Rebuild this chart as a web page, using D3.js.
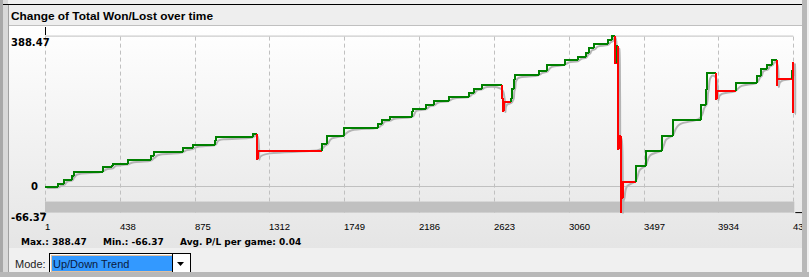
<!DOCTYPE html>
<html>
<head>
<meta charset="utf-8">
<script src="https://cdn.jsdelivr.net/npm/d3@7"></script>
<style>
body { margin: 0; background: #f0f0f0; }
svg { display: block; }
</style>
</head>
<body>
<svg id="chart" width="809" height="277"></svg>
<script>
// Cumulative won/lost (game number, total, trend 1 = up / -1 = down)
const games = [1, 79, 112, 157, 169, 338, 392, 398, 487, 622, 639, 805, 864, 992, 998, 1214,
    1241, 1243, 1617, 1650, 1749, 1948, 1967, 2018, 2146, 2152, 2228, 2275, 2359, 2479, 2505,
    2551, 2672, 2678, 2680, 2721, 2730, 2738, 2746, 2884, 2934, 3036, 3116, 3159, 3178, 3209,
    3289, 3312, 3330, 3341, 3349, 3351, 3365, 3367, 3378, 3453, 3509, 3606, 3670, 3834, 3861,
    3869, 3921, 3925, 4038, 4161, 4180, 4219, 4245, 4275, 4277, 4362, 4369, 4372];
const totals = [0, 7.5, 17.9, 28.2, 38.5, 49.6, 54, 59, 67.6, 78, 88.2, 98.5, 108, 116.6, 126.9, 136.4,
    72, 92.6, 110.7, 131.3, 151.9, 162.2, 172.5, 180.2, 191.3, 200.9, 211.2, 221.5, 231.8, 242.1, 252.4,
    260.9, 228.2, 194.7, 217.1, 226.6, 252.4, 275.6, 286.7, 297, 314.2, 324.6, 333.8, 344.1, 355.5, 365.8,
    376.1, 388.47, 318, 362, 98, 129.5, -66.37, -28.5, 11.7, 52.2, 90.8, 130.3, 170.7, 210.1, 249.8,
    291.1, 224.8, 245.4, 266.1, 285.9, 302.9, 314.2, 324.6, 258.6, 278.2, 297.8, 320.2, 189.5];
const trend = [1, 1, 1, 1, 1, 1, 1, 1, 1, 1, 1, 1, 1, 1, 1, 1,
    -1, -1, 1, 1, 1, 1, 1, 1, 1, 1, 1, 1, 1, 1, 1,
    1, -1, -1, -1, 1, 1, 1, 1, 1, 1, 1, 1, 1, 1, 1,
    1, 1, -1, 1, -1, -1, -1, -1, -1, 1, 1, 1, 1, 1, 1,
    1, -1, -1, 1, 1, 1, 1, 1, -1, -1, 1, 1, -1];

const xTicks = [1, 438, 875, 1312, 1749, 2186, 2623, 3060, 3497, 3934, 4371];
const yLimits = [-66.37, 388.47];
const shadeBand = [-66.37, -38];
const maxValue = 388.47;
const minValue = -66.37;
const avgPerGame = 0.04;
const modeOptions = ["Up/Down Trend"];

const svg = d3.select("#chart");
const W = 809, H = 277;

const x = d3.scaleLinear().domain([1, 4371]).range([45, 793.3]);
const y = d3.scaleLinear().domain(yLimits).range([212.6, 35.6]);
const trendColor = d3.scaleOrdinal().domain([1, -1]).range(["#008000", "#ff0000"]);

// window frame
const defs = svg.append("defs");
const grad = defs.append("linearGradient")
    .attr("id", "panelGrad")
    .attr("x1", 0).attr("y1", 0).attr("x2", 0).attr("y2", 1);
grad.append("stop").attr("offset", "0%").attr("stop-color", "#ffffff");
grad.append("stop").attr("offset", "100%").attr("stop-color", "#e5e5e5");

defs.append("clipPath").attr("id", "panelClip")
    .append("rect").attr("x", 9).attr("y", 26).attr("width", 793).attr("height", 222);

svg.append("rect").attr("width", W).attr("height", H).attr("fill", "#f0f0f0");
svg.append("rect").attr("x", 0).attr("y", 0).attr("width", 3).attr("height", H).attr("fill", "#a8a8a8");
svg.append("rect").attr("x", 3).attr("y", 0).attr("width", 5).attr("height", H).attr("fill", "#d8d8d8");

// title bar
svg.append("line").attr("x1", 3).attr("x2", 802).attr("y1", 4.5).attr("y2", 4.5)
    .attr("stroke", "#000");
svg.append("rect").attr("x", 9).attr("y", 5).attr("width", 793).attr("height", 20).attr("fill", "#eeeeee");
svg.append("line").attr("x1", 8.5).attr("x2", 8.5).attr("y1", 5).attr("y2", 272)
    .attr("stroke", "#a0a0a0");
svg.append("text")
    .attr("x", 11).attr("y", 20)
    .attr("font-family", "Liberation Sans, Arial, sans-serif")
    .attr("font-weight", "bold")
    .attr("font-size", 11.5)
    .attr("textLength", 202)
    .attr("lengthAdjust", "spacingAndGlyphs")
    .text("Change of Total Won/Lost over time");
svg.append("line").attr("x1", 9).attr("x2", 802).attr("y1", 25.5).attr("y2", 25.5)
    .attr("stroke", "#c0c0c0");

// chart panel
svg.append("rect").attr("x", 9).attr("y", 26).attr("width", 793).attr("height", 222)
    .attr("fill", "url(#panelGrad)");

const plot = svg.append("g");

// grey band at the bottom
plot.append("rect")
    .attr("x", x(1)).attr("width", x(4371) - x(1) + 1)
    .attr("y", y(shadeBand[1])).attr("height", y(shadeBand[0]) - y(shadeBand[1]))
    .attr("fill", "#c0c0c0");

// frame and grid
plot.append("line")
    .attr("x1", x(1)).attr("x2", x(4371))
    .attr("y1", y(yLimits[1]) + 0.5).attr("y2", y(yLimits[1]) + 0.5)
    .attr("stroke", "#c0c0c0");
plot.append("line")
    .attr("x1", x(1)).attr("x2", x(4371))
    .attr("y1", Math.round(y(0)) - 0.5).attr("y2", Math.round(y(0)) - 0.5)
    .attr("stroke", "#c0c0c0");
plot.selectAll("line.grid")
    .data(xTicks)
    .enter()
    .append("line")
    .attr("class", "grid")
    .attr("x1", d => Math.round(x(d)) + 0.5)
    .attr("x2", d => Math.round(x(d)) + 0.5)
    .attr("y1", y(yLimits[1]) + 1)
    .attr("y2", y(yLimits[0]))
    .attr("stroke", "#c0c0c0")
    .attr("stroke-dasharray", "4,3");

// small black axis marks
plot.append("line").attr("x1", x(1) + 0.5).attr("x2", x(1) + 0.5)
    .attr("y1", 27).attr("y2", 35).attr("stroke", "#000");
plot.append("line").attr("x1", 40).attr("x2", x(1))
    .attr("y1", y(yLimits[0]) + 0.5).attr("y2", y(yLimits[0]) + 0.5).attr("stroke", "#000");
plot.append("line").attr("x1", x(4371) + 2).attr("x2", 802)
    .attr("y1", y(yLimits[0])).attr("y2", y(yLimits[0])).attr("stroke", "#000");

// step vertices
const pts = games.map((g, i) => ({ g: g, v: totals[i], t: trend[i], prev: i ? totals[i - 1] : totals[0] }));
const stepVerts = [];
pts.forEach(p => {
    stepVerts.push([p.g, p.prev]);
    stepVerts.push([p.g, p.v]);
});
stepVerts.push([4371, totals[totals.length - 1]]);

// grey shadow of the raw curve
plot.append("path")
    .datum(stepVerts)
    .attr("transform", "translate(1.8,1.3)")
    .attr("fill", "none")
    .attr("stroke", "#b4b4b4")
    .attr("stroke-width", 2)
    .attr("d", d3.line().x(d => x(d[0])).y(d => y(d[1])).curve(d3.curveBasis));

// coloured trend steps
const segLine = d3.line().x(d => Math.round(x(d[0]))).y(d => Math.round(y(d[1])));
const segments = pts.map((p, i) => {
    const next = i < pts.length - 1 ? pts[i + 1].g : p.g;
    return { t: p.t, pts: [[p.g, p.prev], [p.g, p.v], [next, p.v]] };
});
plot.selectAll("path.seg")
    .data(segments)
    .enter()
    .append("path")
    .attr("class", "seg")
    .attr("fill", "none")
    .attr("stroke", d => trendColor(d.t))
    .attr("stroke-width", 2)
    .attr("shape-rendering", "crispEdges")
    .attr("stroke-linejoin", "miter")
    .attr("d", d => segLine(d.pts));

// y labels
const yLabelFont = "DejaVu Sans, Verdana, sans-serif";
svg.append("text").attr("x", 11).attr("y", y(yLimits[1]) + 10)
    .attr("font-family", yLabelFont).attr("font-weight", "bold").attr("font-size", 10)
    .text(d3.format(".2f")(yLimits[1]));
svg.append("text").attr("x", 38).attr("y", y(0) + 3.5)
    .attr("text-anchor", "end")
    .attr("font-family", yLabelFont).attr("font-weight", "bold").attr("font-size", 10)
    .text("0");
svg.append("text").attr("x", 11).attr("y", y(yLimits[0]) + 8)
    .attr("font-family", yLabelFont).attr("font-weight", "bold").attr("font-size", 10)
    .text(d3.format(".2f")(yLimits[0]).replace("−", "-"));

// x labels
svg.append("g")
    .attr("clip-path", "url(#panelClip)")
    .selectAll("text")
    .data(xTicks)
    .enter()
    .append("text")
    .attr("x", d => Math.round(x(d)))
    .attr("y", 230)
    .attr("font-family", "Liberation Sans, Arial, sans-serif")
    .attr("font-size", 9.5)
    .attr("fill", "#000")
    .text(d => d);

// stats row
const statFont = "DejaVu Sans, Verdana, sans-serif";
const statItems = [
    { x: 21, s: "Max.: " + maxValue.toFixed(2) },
    { x: 103, s: "Min.: " + minValue.toFixed(2) },
    { x: 180, s: "Avg. P/L per game: " + avgPerGame.toFixed(2) }
];
svg.selectAll("text.stat")
    .data(statItems)
    .enter()
    .append("text")
    .attr("class", "stat")
    .attr("x", d => d.x)
    .attr("y", 244.5)
    .attr("font-family", statFont)
    .attr("font-weight", "bold")
    .attr("font-size", 9)
    .text(d => d.s);

// mode selector
svg.append("rect").attr("x", 9).attr("y", 248).attr("width", 793).attr("height", 24).attr("fill", "#f0f0f0");
svg.append("text").attr("x", 15).attr("y", 268)
    .attr("font-family", "Liberation Sans, Arial, sans-serif").attr("font-size", 11)
    .attr("fill", "#222")
    .text("Mode:");
svg.append("rect").attr("x", 49.5).attr("y", 253.5).attr("width", 141).attr("height", 22)
    .attr("fill", "#fff").attr("stroke", "#000");
svg.append("rect").attr("x", 52).attr("y", 256).attr("width", 120).attr("height", 15)
    .attr("fill", "#3399ff");
svg.append("rect").attr("x", 51.5).attr("y", 255.5).attr("width", 121).attr("height", 16)
    .attr("fill", "none").attr("stroke", "#c08040").attr("stroke-dasharray", "1,1");
svg.append("text").attr("x", 53).attr("y", 268)
    .attr("font-family", "Liberation Sans, Arial, sans-serif").attr("font-size", 11)
    .attr("fill", "#0a1a40")
    .text(modeOptions[0]);
svg.append("line").attr("x1", 172.5).attr("x2", 172.5).attr("y1", 254).attr("y2", 275)
    .attr("stroke", "#000");
svg.append("path")
    .attr("d", d3.line()([[177, 262], [184, 262], [180.5, 266]]) + "Z")
    .attr("fill", "#000");
// bottom and right window edges on top
svg.append("rect").attr("x", 0).attr("y", 272).attr("width", W).attr("height", 5).attr("fill", "#b8b8b8");
svg.append("rect").attr("x", 802).attr("y", 0).attr("width", 5).attr("height", H).attr("fill", "#b8b8b8");
</script>
</body>
</html>
